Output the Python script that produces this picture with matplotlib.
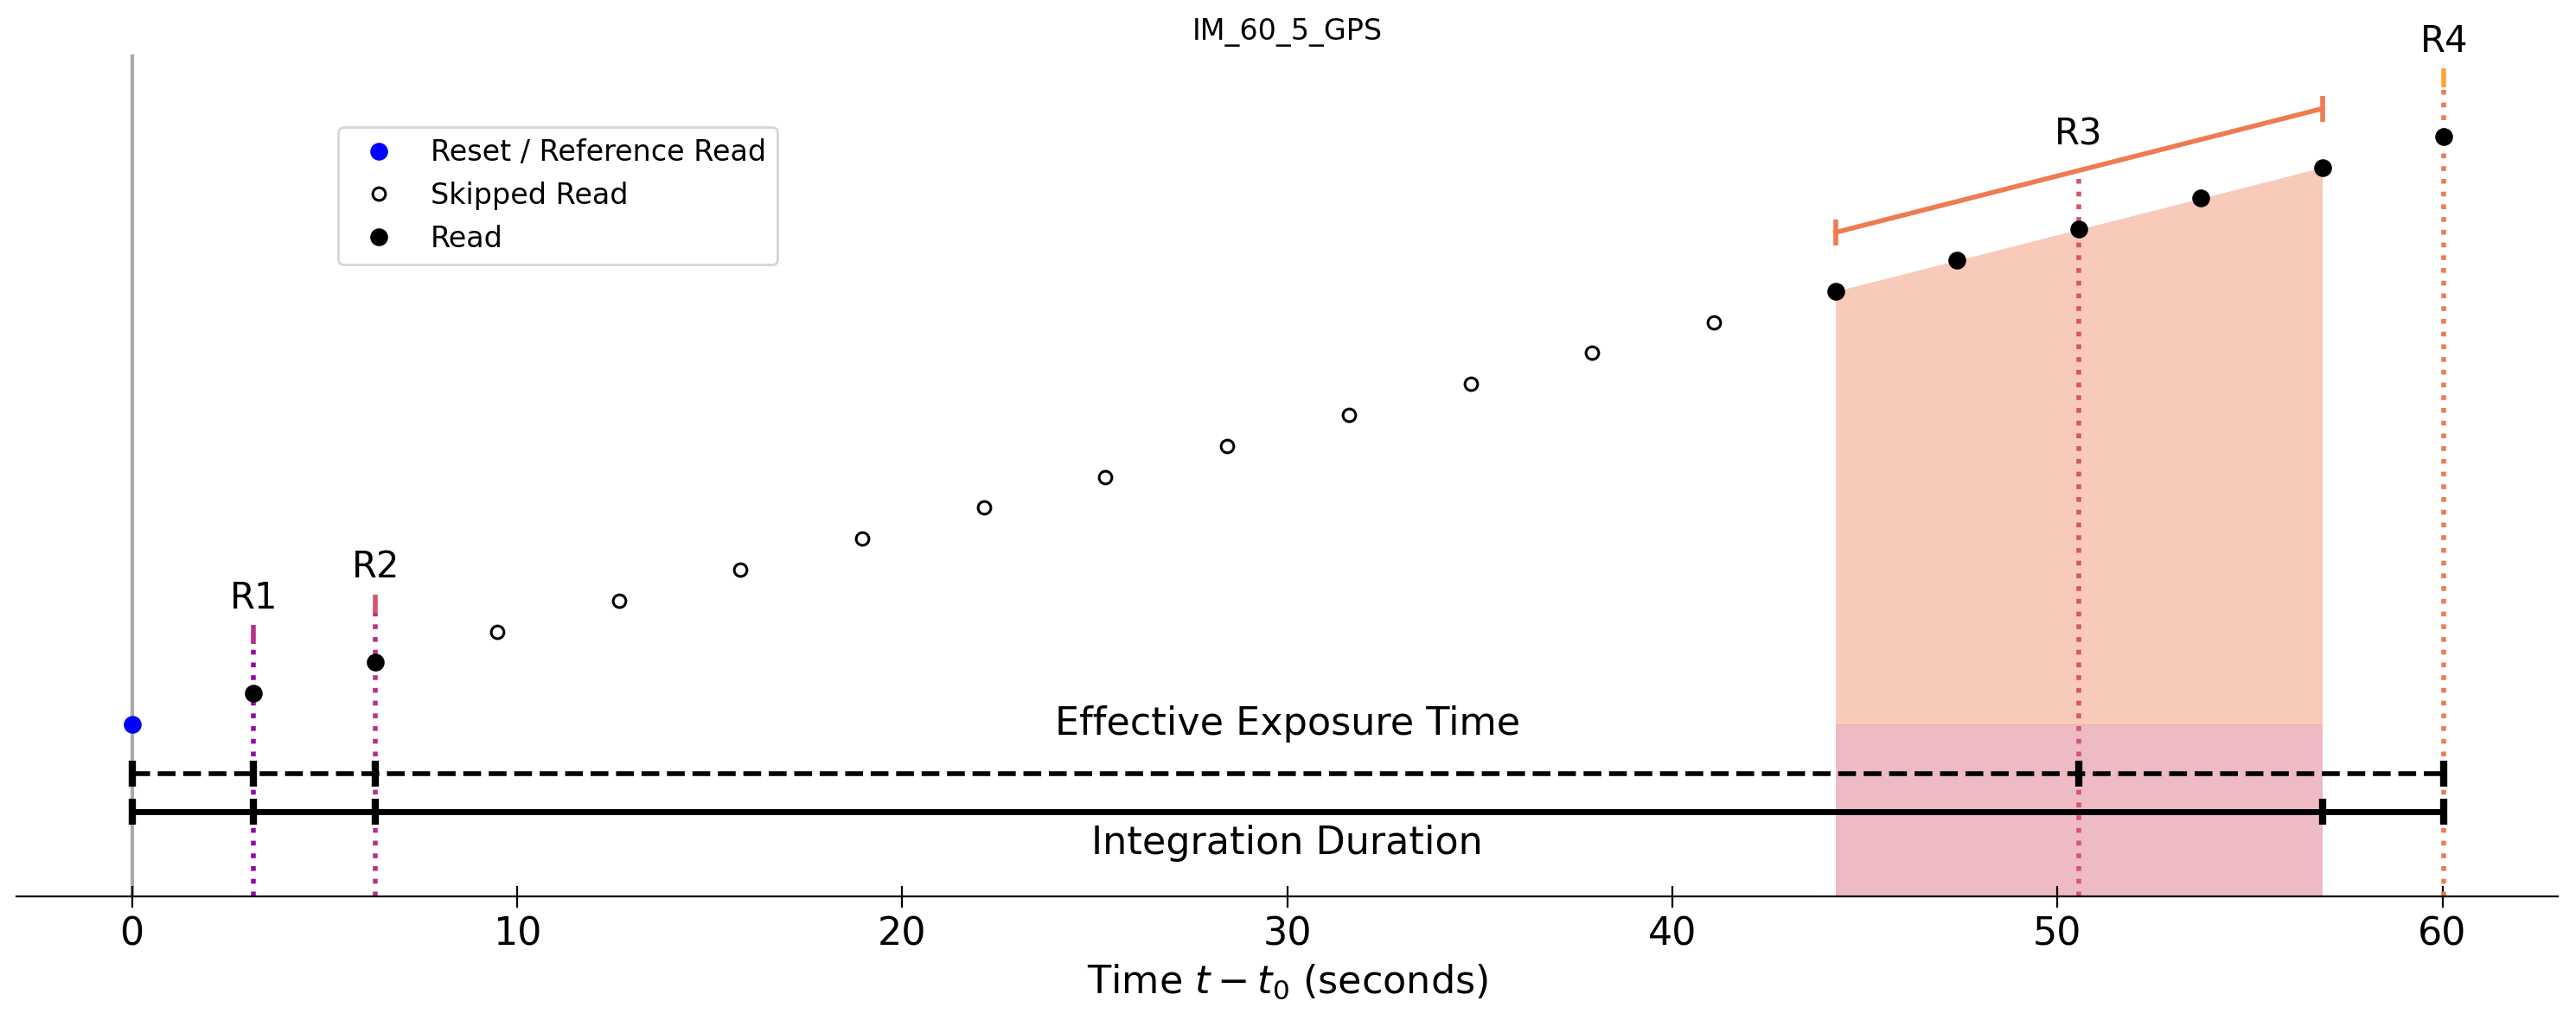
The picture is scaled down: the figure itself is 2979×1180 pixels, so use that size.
import matplotlib
matplotlib.use('Agg')
import matplotlib.pyplot as plt
import numpy as np

# read times (seconds) and accumulated signal for the ramp
read_times = [0.00, 3.16, 6.32, 9.48, 12.64, 15.80, 18.96, 22.12, 25.28, 28.44,
              31.60, 34.76, 37.92, 41.08, 44.24, 47.40, 50.56, 53.72, 56.88, 60.04]
signal = [0, 1, 2, 3, 4, 5, 6, 7, 8, 9, 10, 11, 12, 13, 14, 15, 16, 17, 18, 19]
# 'reset', 'skip' or 'read'
read_kind = ['reset', 'read', 'read', 'skip', 'skip', 'skip', 'skip', 'skip',
             'skip', 'skip', 'skip', 'skip', 'skip', 'skip', 'read', 'read',
             'read', 'read', 'read', 'read']

# resultants: label and indices of the reads they average
resultant_labels = ['R1', 'R2', 'R3', 'R4']
resultant_reads = [[1], [2], [14, 15, 16, 17, 18], [19]]

title = 'IM_60_5_GPS'

colors = plt.cm.plasma(np.linspace(0.3, 0.8, 5))

fig = plt.figure(figsize=(2979 / 200, 1180 / 200), dpi=200)
ax = fig.add_axes([0.0064, 0.1212, 0.9866, 0.8254])

ymin, ymax = -5.56, 21.65
ax.axvline(0, color='#aaaaaa', lw=1.5, zorder=1)

t = np.array(read_times)
s = np.array(signal)
kind = np.array(read_kind)

# shaded area for the multi-read resultant
idx = resultant_reads[2]
ax.fill_between(t[idx], 0, s[idx], color=colors[3], alpha=0.4, lw=0, zorder=0)
ax.fill_between([t[idx[0]], t[idx[-1]]], ymin, 0, color=colors[2], alpha=0.4,
                lw=0, zorder=0)

# resultant markers
res_times = []
for k, (lab, rr) in enumerate(zip(resultant_labels, resultant_reads)):
    tm = t[rr].mean()
    res_times.append(tm)
    if len(rr) > 1:
        ax.vlines(tm, ymin, s[rr].mean() + 1.9, color=colors[k], ls=':',
                  lw=2, zorder=2)
        ax.plot(t[rr], s[rr] + 1.9, color=colors[k + 1], lw=2, zorder=2)
        for i in (rr[0], rr[-1]):
            ax.plot(t[i], s[i] + 1.9, marker='|', ms=11, mew=2,
                    color=colors[k + 1], zorder=2)
        ylab = s[rr].mean() + 3.08
    else:
        ax.vlines(tm, ymin, s[rr[0]] + 1.6, color=colors[k], ls=':', lw=2,
                  zorder=2)
        ax.vlines(tm, s[rr[0]] + 1.6, s[rr[0]] + 2.2, color=colors[k + 1],
                  lw=2, zorder=2)
        ylab = s[rr[0]] + 3.08
    ax.text(tm, ylab, lab, ha='center', va='center', fontsize=15)

# reads
m = kind == 'reset'
ax.plot(t[m], s[m], 'o', color='blue', ms=6.4, ls='none',
        label='Reset / Reference Read', zorder=3)
m = kind == 'skip'
ax.plot(t[m], s[m], 'o', mfc='white', mec='black', ms=5.3, mew=1.1, ls='none',
        label='Skipped Read', zorder=3)
m = kind == 'read'
ax.plot(t[m], s[m], 'o', color='black', ms=6.4, ls='none', label='Read',
        zorder=3)

# effective exposure and integration duration bars
eff_ticks = [0] + res_times
ax.plot([0, res_times[-1]], [-1.59, -1.59], color='black', ls='--', lw=2)
ax.plot(eff_ticks, [-1.59] * len(eff_ticks), ls='none', marker='|', ms=11,
        mew=3, color='black')
int_ticks = [0, t[1], t[2], t[18], t[19]]
ax.plot([0, t[19]], [-2.82, -2.82], color='black', lw=2.5)
ax.plot(int_ticks, [-2.82] * len(int_ticks), ls='none', marker='|', ms=11,
        mew=3, color='black')
ax.text(30, 0, 'Effective Exposure Time', ha='center', va='center',
        fontsize=16)
ax.text(30, -3.85, 'Integration Duration', ha='center', va='center',
        fontsize=16, bbox=dict(facecolor='white', edgecolor='none', pad=3))

ax.set_xlim(-3, 63)
ax.set_ylim(ymin, ymax)
ax.set_yticks([])
for side in ('left', 'top', 'right'):
    ax.spines[side].set_visible(False)
ax.tick_params(axis='x', direction='inout', length=9, labelsize=16)
ax.set_xlabel('Time $t - t_0$ (seconds)', fontsize=16)
ax.set_title(title, fontsize=12)
ax.legend(loc='upper left', bbox_to_anchor=(0.121, 0.931), fontsize=12)

fig.savefig('out.png', dpi=200)
